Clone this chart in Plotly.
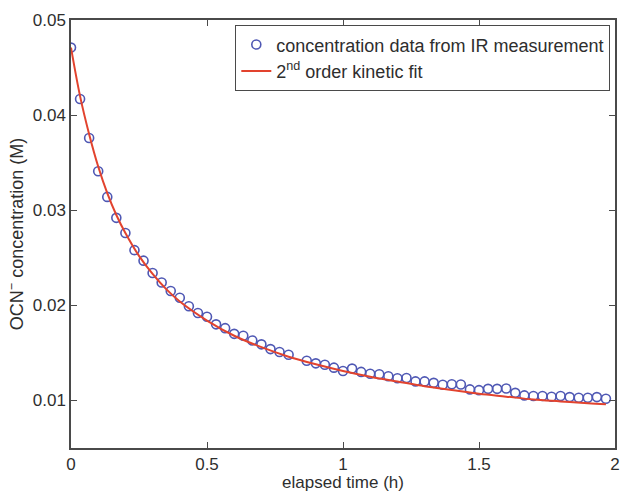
import plotly.graph_objects as go

# measured data (2-min sampling, one missing sample at t = 0.8333 h)
time_h = [i / 30 for i in range(60) if i != 25]
conc_M = [0.0471, 0.0417, 0.0376, 0.0341, 0.0314, 0.0292, 0.0276, 0.0258, 0.0247, 0.0234,
          0.0224, 0.0215, 0.0208, 0.0199, 0.0192, 0.0188, 0.0180, 0.0176, 0.0170, 0.0168,
          0.0163, 0.0159, 0.0154, 0.0151, 0.0148,
          0.01417, 0.0139, 0.01375, 0.01345, 0.0131, 0.01335, 0.0130, 0.0128, 0.01276, 0.01254,
          0.01233, 0.01236, 0.0120, 0.0120, 0.01185, 0.01165, 0.0117, 0.01167, 0.01116, 0.01108,
          0.01122, 0.01122, 0.01126, 0.0108, 0.01053, 0.01046, 0.01046, 0.01039, 0.01046, 0.01035,
          0.01028, 0.01028, 0.01035, 0.01018]

# fitted curve
fit_t = [0, 0.0333, 0.0667, 0.1, 0.1333, 0.1667, 0.2, 0.25, 0.3, 0.35, 0.4, 0.5, 0.6, 0.7,
         0.8, 0.9, 1.0, 1.1, 1.2, 1.3, 1.4, 1.5, 1.6, 1.7, 1.8, 1.9, 1.9667]
fit_c = [0.0471, 0.0420, 0.0380, 0.0346, 0.0318, 0.0295, 0.0276, 0.0252, 0.0233, 0.0217,
         0.0204, 0.0184, 0.0168, 0.0156, 0.0146, 0.0138, 0.0131, 0.0125, 0.0120, 0.0115,
         0.0111, 0.0107, 0.0104, 0.0101, 0.0099, 0.0097, 0.0096]

x_ticks = [0, 0.5, 1, 1.5, 2]
x_tick_text = ["0", "0.5", "1", "1.5", "2"]
y_ticks = [0.01, 0.02, 0.03, 0.04, 0.05]
y_tick_text = ["0.01", "0.02", "0.03", "0.04", "0.05"]

FONT = "Liberation Sans, Arial, Helvetica, sans-serif"
AX = "#4a4a4a"
TXT = "#2e2e2e"

fig = go.Figure()
fig.add_trace(go.Scatter(
    x=time_h, y=conc_M, mode="markers",
    name="concentration data from IR measurement",
    marker=dict(symbol="circle-open", size=9, color="#4f58b4", line=dict(width=1.6)),
))
fig.add_trace(go.Scatter(
    x=fit_t, y=fit_c, mode="lines", line_shape="spline",
    name="2<sup>nd</sup> order kinetic fit",
    line=dict(color="#e2432e", width=2),
))

axis_common = dict(
    showline=True, linecolor=AX, linewidth=1.5, mirror="ticks",
    ticks="inside", ticklen=6, tickwidth=1, tickcolor=AX,
    showgrid=False, zeroline=False,
    tickfont=dict(family=FONT, size=17, color=TXT),
)

fig.update_layout(
    width=625, height=492,
    margin=dict(l=71, r=5, t=20, b=39),
    paper_bgcolor="white", plot_bgcolor="white",
    font=dict(family=FONT, size=17, color=TXT),
    showlegend=True,
    legend=dict(
        x=0.991, y=0.988, xanchor="right", yanchor="top",
        bgcolor="white", bordercolor=AX, borderwidth=1.2,
        font=dict(family=FONT, size=18, color=TXT),
        tracegroupgap=0,
    ),
    xaxis=dict(
        range=[0, 2], tickvals=x_ticks, ticktext=x_tick_text,
        title=dict(text="elapsed time (h)", standoff=1,
                   font=dict(family=FONT, size=17, color=TXT)),
        **axis_common,
    ),
    yaxis=dict(
        range=[0.005, 0.05], tickvals=y_ticks, ticktext=y_tick_text,
        title=dict(text="OCN<sup>\u2212</sup> concentration (M)", standoff=4,
                   font=dict(family=FONT, size=18, color=TXT)),
        **axis_common,
    ),
)

fig.write_html("out.html")
